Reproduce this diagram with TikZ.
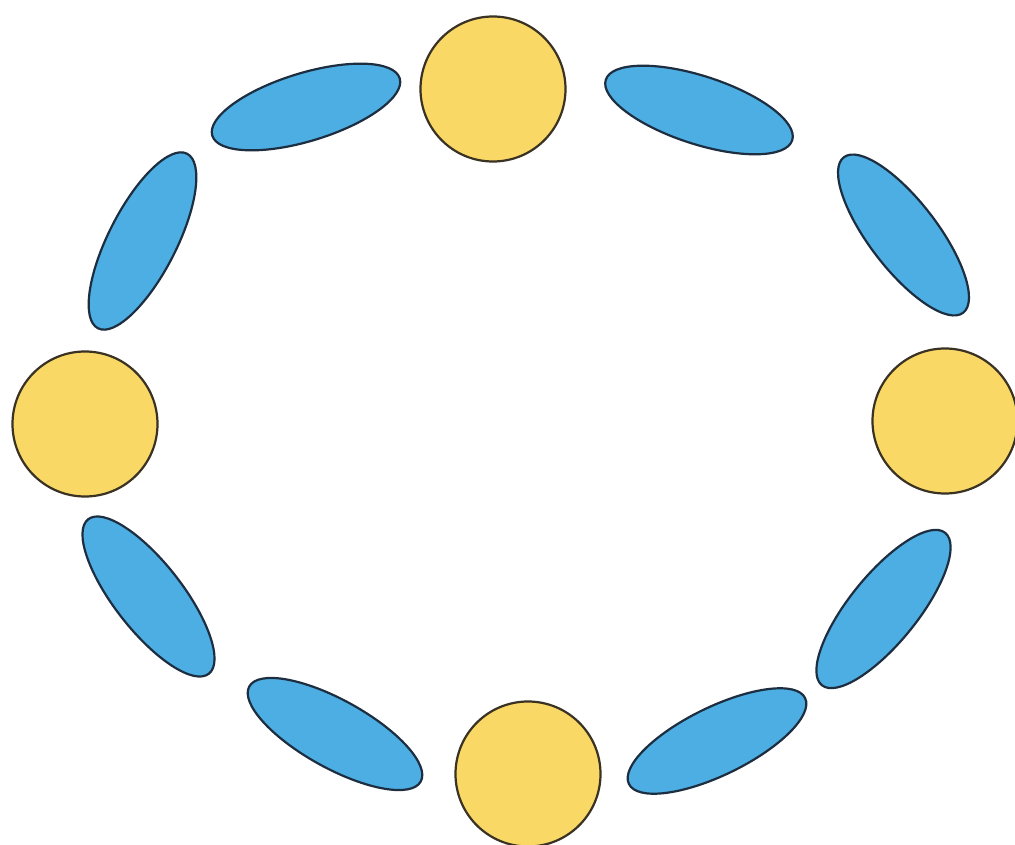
\documentclass[tikz,border=0pt]{standalone}
\usetikzlibrary{shapes.geometric}
\definecolor{petal}{HTML}{4DAEE3}
\definecolor{petaledge}{HTML}{1C2E40}
\definecolor{sun}{HTML}{F9D866}
\definecolor{sunedge}{HTML}{3A3222}
\tikzset{
  petal/.style={ellipse, draw=petaledge, fill=petal, line width=2.2pt, inner sep=0pt,
    minimum width=196pt, minimum height=68pt},
  disc/.style={circle, draw=sunedge, fill=sun, line width=2.2pt, inner sep=0pt,
    minimum size=145pt}
}
\begin{document}
\begin{tikzpicture}[x=1pt,y=-1pt]
\useasboundingbox[fill=white] (0,0) rectangle (1015,845);
\node[disc] (ctop) at (493,89) {};
\node[disc] (cleft) at (85,424) {};
\node[disc] (cright) at (945,421) {};
\node[disc] (cbottom) at (528,774) {};
\node[petal, rotate=17] (e1) at (306,107) {};
\node[petal, rotate=-18] (e2) at (699,110) {};
\node[petal, rotate=63] (e3) at (142.5,241) {};
\node[petal, rotate=-52.5] (e4) at (903.5,235) {};
\node[petal, rotate=-52] (e5) at (148.5,596.5) {};
\node[petal, rotate=51] (e6) at (883.5,609) {};
\node[petal, rotate=-29] (e7) at (335,734) {};
\node[petal, rotate=26] (e8) at (717,741) {};
\end{tikzpicture}
\end{document}
